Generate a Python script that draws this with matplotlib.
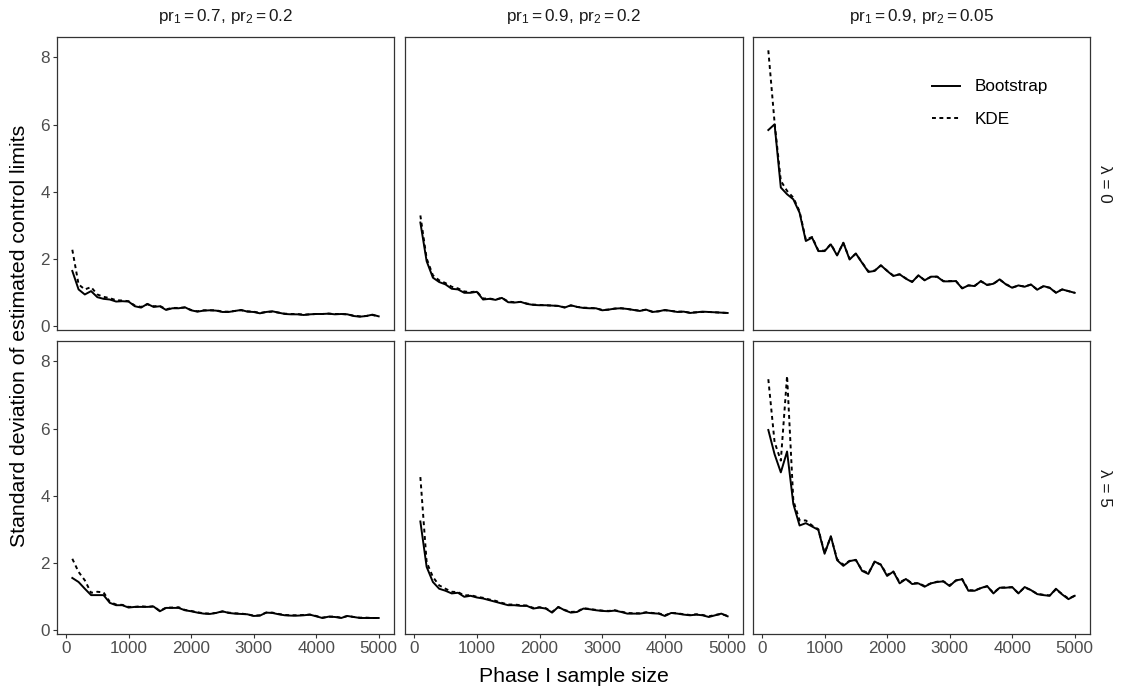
import matplotlib
matplotlib.use("Agg")
import matplotlib.pyplot as plt

plt.rcParams['font.family'] = ['Liberation Sans', 'DejaVu Sans']
plt.rcParams['mathtext.fontset'] = 'custom'
plt.rcParams['mathtext.rm'] = 'Liberation Sans'
plt.rcParams['mathtext.it'] = 'Liberation Sans:italic'
plt.rcParams['mathtext.bf'] = 'Liberation Sans:bold'

# Phase I sample sizes (x axis)
sample_size = list(range(100, 5001, 100))

col_labels = [r'$\mathrm{pr}_1 = 0.7,\,\mathrm{pr}_2 = 0.2$',
              r'$\mathrm{pr}_1 = 0.9,\,\mathrm{pr}_2 = 0.2$',
              r'$\mathrm{pr}_1 = 0.9,\,\mathrm{pr}_2 = 0.05$']
row_labels = ['λ = 0', 'λ = 5']

# lambda = 0
boot_l0_a = [1.65, 1.10, 0.95, 1.05, 0.87, 0.82, 0.80, 0.74, 0.75, 0.74,
             0.60, 0.56, 0.67, 0.58, 0.60, 0.49, 0.54, 0.54, 0.57, 0.48,
             0.44, 0.47, 0.48, 0.47, 0.43, 0.43, 0.46, 0.49, 0.44, 0.43,
             0.39, 0.43, 0.45, 0.41, 0.37, 0.36, 0.36, 0.34, 0.36, 0.37,
             0.37, 0.38, 0.36, 0.37, 0.36, 0.31, 0.29, 0.31, 0.35, 0.30]
kde_l0_a = [2.28, 1.25, 1.10, 1.17, 0.95, 0.88, 0.84, 0.78, 0.77, 0.75,
            0.62, 0.58, 0.66, 0.60, 0.61, 0.51, 0.55, 0.55, 0.56, 0.49,
            0.45, 0.48, 0.48, 0.48, 0.44, 0.44, 0.46, 0.48, 0.45, 0.44,
            0.40, 0.43, 0.44, 0.41, 0.38, 0.37, 0.37, 0.35, 0.36, 0.37,
            0.37, 0.38, 0.37, 0.37, 0.36, 0.32, 0.30, 0.31, 0.34, 0.30]

boot_l0_b = [3.09, 1.94, 1.45, 1.32, 1.25, 1.12, 1.10, 1.00, 1.00, 1.03,
             0.80, 0.82, 0.79, 0.85, 0.72, 0.71, 0.73, 0.67, 0.64, 0.63,
             0.63, 0.62, 0.61, 0.56, 0.63, 0.58, 0.55, 0.54, 0.54, 0.48,
             0.50, 0.53, 0.54, 0.52, 0.49, 0.46, 0.50, 0.43, 0.45, 0.49,
             0.46, 0.43, 0.44, 0.40, 0.42, 0.44, 0.43, 0.42, 0.41, 0.40]
kde_l0_b = [3.30, 2.02, 1.52, 1.37, 1.29, 1.18, 1.13, 1.04, 1.02, 1.04,
            0.83, 0.83, 0.80, 0.85, 0.74, 0.72, 0.73, 0.68, 0.65, 0.64,
            0.63, 0.62, 0.61, 0.57, 0.62, 0.58, 0.56, 0.55, 0.54, 0.49,
            0.50, 0.53, 0.54, 0.52, 0.49, 0.47, 0.50, 0.44, 0.45, 0.48,
            0.46, 0.44, 0.44, 0.41, 0.42, 0.43, 0.43, 0.42, 0.41, 0.40]

boot_l0_c = [5.84, 6.01, 4.13, 3.93, 3.78, 3.38, 2.54, 2.64, 2.24, 2.24,
             2.44, 2.11, 2.49, 1.99, 2.17, 1.89, 1.62, 1.65, 1.82, 1.65,
             1.50, 1.55, 1.42, 1.32, 1.52, 1.37, 1.48, 1.48, 1.34, 1.34,
             1.35, 1.13, 1.22, 1.20, 1.35, 1.23, 1.27, 1.40, 1.25, 1.15,
             1.22, 1.18, 1.25, 1.09, 1.20, 1.15, 1.00, 1.10, 1.05, 1.00]
kde_l0_c = [8.21, 6.06, 4.33, 4.03, 3.83, 3.42, 2.58, 2.66, 2.26, 2.25,
            2.45, 2.13, 2.48, 2.01, 2.16, 1.90, 1.64, 1.66, 1.81, 1.66,
            1.51, 1.55, 1.43, 1.33, 1.51, 1.38, 1.47, 1.48, 1.35, 1.35,
            1.35, 1.14, 1.22, 1.21, 1.34, 1.24, 1.27, 1.39, 1.26, 1.16,
            1.21, 1.19, 1.24, 1.10, 1.19, 1.15, 1.01, 1.10, 1.05, 1.00]

# lambda = 5
boot_l5_a = [1.56, 1.44, 1.24, 1.05, 1.05, 1.05, 0.82, 0.75, 0.75, 0.68,
             0.70, 0.70, 0.70, 0.71, 0.57, 0.67, 0.67, 0.67, 0.60, 0.57,
             0.53, 0.50, 0.49, 0.52, 0.57, 0.52, 0.50, 0.49, 0.48, 0.43,
             0.44, 0.53, 0.52, 0.48, 0.45, 0.44, 0.44, 0.45, 0.47, 0.42,
             0.37, 0.41, 0.40, 0.37, 0.43, 0.40, 0.37, 0.37, 0.37, 0.37]
kde_l5_a = [2.13, 1.74, 1.49, 1.12, 1.15, 1.13, 0.85, 0.77, 0.76, 0.70,
            0.70, 0.72, 0.70, 0.72, 0.58, 0.68, 0.68, 0.69, 0.61, 0.58,
            0.54, 0.51, 0.50, 0.52, 0.56, 0.53, 0.51, 0.50, 0.48, 0.44,
            0.45, 0.53, 0.53, 0.49, 0.46, 0.45, 0.45, 0.46, 0.47, 0.43,
            0.38, 0.41, 0.41, 0.38, 0.43, 0.40, 0.38, 0.38, 0.37, 0.37]

boot_l5_b = [3.24, 1.89, 1.44, 1.24, 1.18, 1.10, 1.12, 1.00, 1.03, 0.98,
             0.95, 0.90, 0.85, 0.80, 0.75, 0.75, 0.73, 0.73, 0.65, 0.68,
             0.65, 0.53, 0.70, 0.60, 0.53, 0.55, 0.65, 0.63, 0.60, 0.58,
             0.57, 0.59, 0.55, 0.50, 0.50, 0.50, 0.53, 0.51, 0.50, 0.43,
             0.52, 0.50, 0.47, 0.45, 0.47, 0.45, 0.40, 0.45, 0.50, 0.42]
kde_l5_b = [4.56, 2.03, 1.59, 1.34, 1.24, 1.15, 1.14, 1.04, 1.05, 1.00,
            0.97, 0.92, 0.88, 0.82, 0.77, 0.77, 0.75, 0.74, 0.67, 0.69,
            0.66, 0.55, 0.69, 0.61, 0.55, 0.56, 0.66, 0.64, 0.61, 0.59,
            0.58, 0.60, 0.56, 0.52, 0.51, 0.51, 0.54, 0.52, 0.51, 0.45,
            0.52, 0.51, 0.48, 0.46, 0.48, 0.46, 0.42, 0.46, 0.49, 0.43]

boot_l5_c = [5.96, 5.24, 4.70, 5.32, 3.76, 3.12, 3.19, 3.09, 2.99, 2.28,
             2.80, 2.09, 1.92, 2.06, 2.10, 1.77, 1.68, 2.05, 1.95, 1.62,
             1.75, 1.40, 1.53, 1.38, 1.40, 1.30, 1.40, 1.44, 1.46, 1.32,
             1.49, 1.52, 1.18, 1.18, 1.26, 1.32, 1.10, 1.27, 1.27, 1.29,
             1.10, 1.29, 1.20, 1.08, 1.05, 1.03, 1.24, 1.07, 0.93, 1.03]
kde_l5_c = [7.47, 5.60, 5.05, 7.57, 3.86, 3.27, 3.27, 3.12, 3.01, 2.30,
            2.79, 2.12, 1.95, 2.07, 2.09, 1.79, 1.70, 2.04, 1.96, 1.65,
            1.75, 1.43, 1.53, 1.40, 1.41, 1.32, 1.40, 1.45, 1.46, 1.34,
            1.48, 1.53, 1.20, 1.19, 1.26, 1.31, 1.12, 1.27, 1.28, 1.28,
            1.11, 1.28, 1.20, 1.09, 1.06, 1.04, 1.22, 1.08, 0.95, 1.03]

boot = [[boot_l0_a, boot_l0_b, boot_l0_c], [boot_l5_a, boot_l5_b, boot_l5_c]]
kde = [[kde_l0_a, kde_l0_b, kde_l0_c], [kde_l5_a, kde_l5_b, kde_l5_c]]

W, H = 1123, 688
fig = plt.figure(figsize=(W / 100, H / 100), dpi=100)

cols = [(57, 394), (405, 743), (753, 1090)]
rows = [(37, 330), (341, 634)]

all_vals = [v for grp in (boot, kde) for row in grp for s in row for v in s]
ymin, ymax = min(all_vals), max(all_vals)
ypad = 0.05 * (ymax - ymin)
xpad = 0.05 * (sample_size[-1] - sample_size[0])

border = '#333333'
tick_col = '#4D4D4D'
fs_small = 12.3

for r, (top, bot) in enumerate(rows):
    for c, (left, right) in enumerate(cols):
        ax = fig.add_axes([left / W, 1 - bot / H, (right - left) / W, (bot - top) / H])
        ax.plot(sample_size, boot[r][c], color='black', lw=1.4, label='Bootstrap')
        ax.plot(sample_size, kde[r][c], color='black', lw=1.4, dashes=(2, 1.8), label='KDE')
        ax.set_xlim(sample_size[0] - xpad, sample_size[-1] + xpad)
        ax.set_ylim(ymin - ypad, ymax + ypad)
        ax.set_xticks([0, 1000, 2000, 3000, 4000, 5000])
        ax.set_yticks([0, 2, 4, 6, 8])
        for sp in ax.spines.values():
            sp.set_color(border)
            sp.set_linewidth(0.9)
        ax.tick_params(direction='out', length=3.2, width=0.8, color=border,
                       labelcolor=tick_col, labelsize=fs_small, pad=2)
        if r == 0:
            ax.tick_params(axis='x', bottom=False, labelbottom=False)
            fig.text((left + right) / 2 / W, 1 - 17 / H, col_labels[c],
                     ha='center', va='center', fontsize=fs_small, color='#1A1A1A')
        if c > 0:
            ax.tick_params(axis='y', left=False, labelleft=False)
        if c == 2:
            fig.text(1105 / W, 1 - (top + bot) / 2 / H, row_labels[r], rotation=-90,
                     ha='center', va='center', fontsize=fs_small, color='#1A1A1A')
        if r == 0 and c == 2:
            ax.legend(loc='upper left', bbox_to_anchor=(0.53, 0.855), frameon=False,
                      fontsize=fs_small, handlelength=1.65, handletextpad=0.85,
                      labelspacing=1.05, borderpad=0, borderaxespad=0)

fig.text(573.5 / W, 1 - 676 / H, 'Phase I sample size', ha='center', va='center',
         fontsize=15.3, color='black')
fig.text(20 / W, 1 - 335.5 / H, 'Standard deviation of estimated control limits',
         ha='center', va='center', rotation=90, fontsize=15.3, color='black')

fig.savefig('out.png', dpi=100, facecolor='white')
